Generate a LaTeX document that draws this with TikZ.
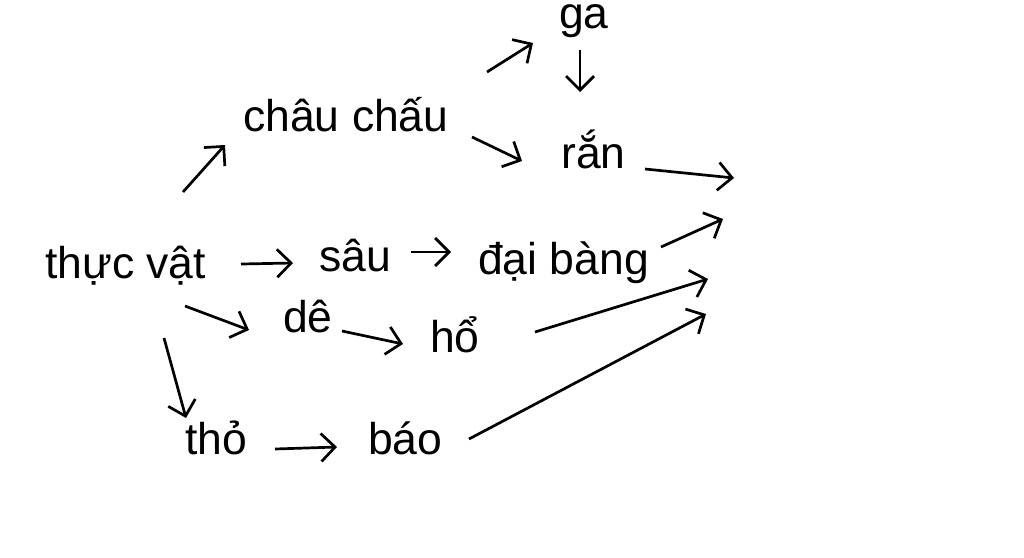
\documentclass[tikz,border=0pt]{standalone}
\usepackage{fontspec}
\setmainfont{Liberation Sans}
\usetikzlibrary{arrows.meta}
\begin{document}
\begin{tikzpicture}[x=1pt,y=-1pt,
  lbl/.style={anchor=base west,inner sep=0pt,font=\fontsize{44.5}{52}\selectfont},
  arr/.style={line width=2.7pt,-{Straight Barb[length=14pt,width=28pt,line width=2.7pt]}}]
\useasboundingbox[fill=white] (0,0) rectangle (1024,557);
\node[lbl] (tv) at (45,278) {thực vật};
\node[lbl] (cc) at (243,131) {châu chấu};
\node[lbl] (ga) at (559,28) {ga};
\node[lbl] (ran) at (561,168) {rắn};
\node[lbl] (sau) at (319,271) {sâu};
\node[lbl] (db) at (478,274) {đại bàng};
\node[lbl] (de) at (283,332) {dê};
\node[lbl] (ho) at (430,352) {hổ};
\node[lbl] (tho) at (185,454) {thỏ};
\node[lbl] (bao) at (368,454) {báo};
% arrow endpoints
\coordinate (a1s) at (183,192); \coordinate (a1e) at (225,145);
\coordinate (a2s) at (487,72);  \coordinate (a2e) at (533,43);
\coordinate (a3s) at (580,50);  \coordinate (a3e) at (580,92);
\coordinate (a4s) at (472,137); \coordinate (a4e) at (522,161);
\coordinate (a5s) at (645,169); \coordinate (o1) at (734,178);
\coordinate (a6s) at (241,264); \coordinate (a6e) at (293,263);
\coordinate (a7s) at (411,252); \coordinate (a7e) at (451,252);
\coordinate (a8s) at (661,247); \coordinate (o2) at (723,219);
\coordinate (a9s) at (185,306); \coordinate (a9e) at (249,330);
\coordinate (a10s) at (342,331); \coordinate (a10e) at (403,344);
\coordinate (a11s) at (535,332); \coordinate (o3) at (708,279);
\coordinate (a12s) at (164,338); \coordinate (a12e) at (186,418);
\coordinate (a13s) at (275,449); \coordinate (a13e) at (337,447);
\coordinate (a14s) at (469,439); \coordinate (o4) at (706,314);
\draw[arr] (a1s) -- (a1e);
\draw[arr] (a2s) -- (a2e);
\draw[arr] (a3s) -- (a3e);
\draw[arr] (a4s) -- (a4e);
\draw[arr] (a5s) -- (o1);
\draw[arr] (a6s) -- (a6e);
\draw[arr] (a7s) -- (a7e);
\draw[arr] (a8s) -- (o2);
\draw[arr] (a9s) -- (a9e);
\draw[arr] (a10s) -- (a10e);
\draw[arr] (a11s) -- (o3);
\draw[arr] (a12s) -- (a12e);
\draw[arr] (a13s) -- (a13e);
\draw[arr] (a14s) -- (o4);
\end{tikzpicture}
\end{document}
